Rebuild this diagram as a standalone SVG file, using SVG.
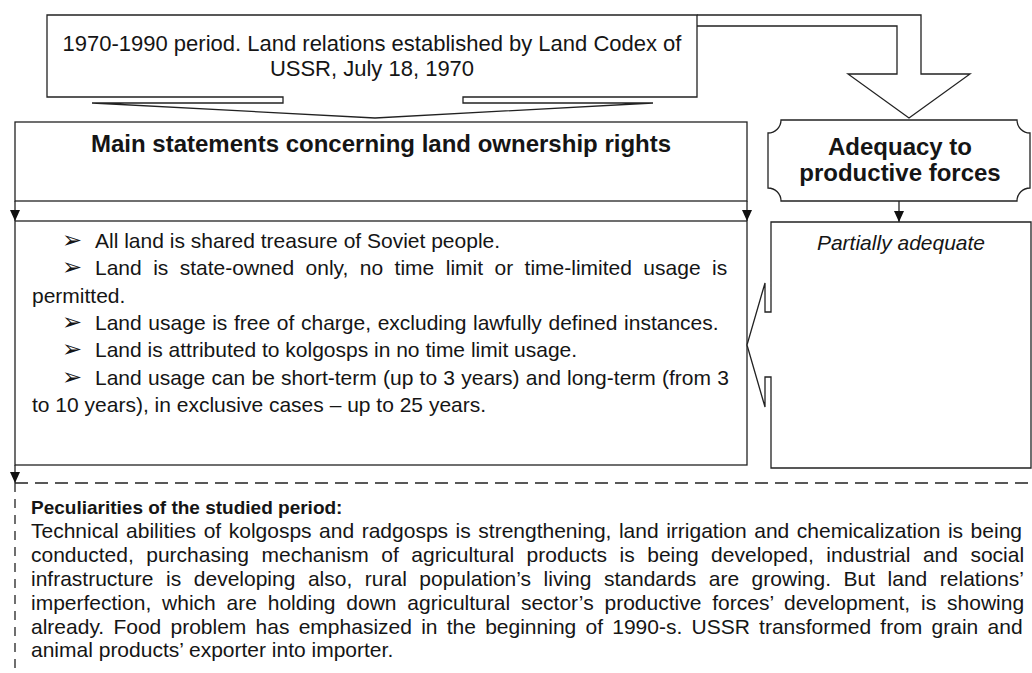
<svg xmlns="http://www.w3.org/2000/svg" width="1032" height="673" viewBox="0 0 1032 673">
<defs>
<style>
.ln{fill:none;stroke:#222;stroke-width:1.3}
.bx{fill:#fff;stroke:#222;stroke-width:1.3}
.ds{fill:none;stroke:#222;stroke-width:1.3}
.t{font-family:"Liberation Sans",Arial,sans-serif;fill:#151515}
.b{font-weight:bold}
.s21{font-size:21px}
.s24{font-size:24px}
.bul{font-family:"DejaVu Sans",sans-serif;font-size:24px}
</style>
<marker id="ah" markerUnits="userSpaceOnUse" markerWidth="11" markerHeight="10" refX="11" refY="5" orient="auto">
<path d="M0,0 L11,5 L0,10 Z" fill="#111"/>
</marker>
</defs>
<rect width="1032" height="673" fill="#fff"/>

<g id="connectors">
<path class="ln" d="M697,15 H921 V74 H970 L909,118 L848,74 H897 V26 H697"/>
<line class="ln" x1="15" y1="201" x2="15" y2="221" marker-end="url(#ah)"/>
<line class="ln" x1="747" y1="201" x2="747" y2="221" marker-end="url(#ah)"/>
<line class="ln" x1="899" y1="201" x2="899" y2="222" marker-end="url(#ah)"/>
<line class="ln" x1="15" y1="465" x2="15" y2="483" marker-end="url(#ah)"/>
</g>

<g id="period">
<path class="bx" d="M47,15 H697 V97 H463 V103 H653 L375,118 L92,103 H283 V97 H47 Z"/>
<text class="t" font-size="22" text-anchor="middle" x="372" y="51">1970-1990 period. Land relations established by Land Codex of</text>
<text class="t" font-size="22" text-anchor="middle" x="372" y="76">USSR, July 18, 1970</text>
</g>

<g id="main-statements">
<rect class="bx" x="15" y="122" width="732" height="79"/>
<text class="t b s24" text-anchor="middle" x="381" y="152">Main statements concerning land ownership rights</text>
</g>

<g id="adequacy">
<path class="bx" d="M781,120 H1017 A13,13 0 0 0 1030,133 V188 A13,13 0 0 0 1017,201 H781 A13,13 0 0 0 768,188 V133 A13,13 0 0 0 781,120 Z"/>
<text class="t b s24" text-anchor="middle" x="900" y="155">Adequacy to</text>
<text class="t b s24" text-anchor="middle" x="900" y="181">productive forces</text>
</g>

<g id="statements">
<rect class="bx" x="15" y="221" width="732" height="244"/>
<text class="t s21" y="248"><tspan class="bul" x="62">➢</tspan><tspan x="95">All land is shared treasure of Soviet people.</tspan></text>
<text class="t s21" y="275" word-spacing="5.6"><tspan class="bul" x="62">➢</tspan><tspan x="95">Land is state-owned only, no time limit or time-limited usage is</tspan></text>
<text class="t s21" x="32" y="302.6">permitted.</text>
<text class="t s21" y="330" word-spacing="0.8"><tspan class="bul" x="62">➢</tspan><tspan x="95">Land usage is free of charge, excluding lawfully defined instances.</tspan></text>
<text class="t s21" y="357"><tspan class="bul" x="62">➢</tspan><tspan x="95">Land is attributed to kolgosps in no time limit usage.</tspan></text>
<text class="t s21" y="384.5" word-spacing="0.4"><tspan class="bul" x="62">➢</tspan><tspan x="95">Land usage can be short-term (up to 3 years) and long-term (from 3</tspan></text>
<text class="t s21" x="32" y="411.8">to 10 years), in exclusive cases – up to 25 years.</text>
</g>

<g id="partially">
<path class="bx" d="M771,222 H1031 V468 H771 V377 H765 V407 L747,345 L765,283 V312 H771 Z"/>
<text class="t s21" font-style="italic" text-anchor="middle" x="901" y="250">Partially adequate</text>
</g>

<g id="peculiarities">
<path class="ds" stroke-dasharray="13 7" d="M15,483 H1032"/>
<path class="ds" stroke-dasharray="9 7" d="M15,483 V673"/>
<text class="t b" font-size="19" x="31" y="514">Peculiarities of the studied period:</text>
<text class="t s21" x="31" y="538" word-spacing="1.7">Technical abilities of kolgosps and radgosps is strengthening, land irrigation and chemicalization is being</text>
<text class="t s21" x="31" y="562" word-spacing="6.66">conducted, purchasing mechanism of agricultural products is being developed, industrial and social</text>
<text class="t s21" x="31" y="586" word-spacing="6.7">infrastructure is developing also, rural population’s living standards are growing. But land relations’</text>
<text class="t s21" x="31" y="610" word-spacing="5">imperfection, which are holding down agricultural sector’s productive forces’ development, is showing</text>
<text class="t s21" x="31" y="634" word-spacing="3.4">already. Food problem has emphasized in the beginning of 1990-s. USSR transformed from grain and</text>
<text class="t s21" x="31" y="657">animal products’ exporter into importer.</text>
</g>
</svg>
